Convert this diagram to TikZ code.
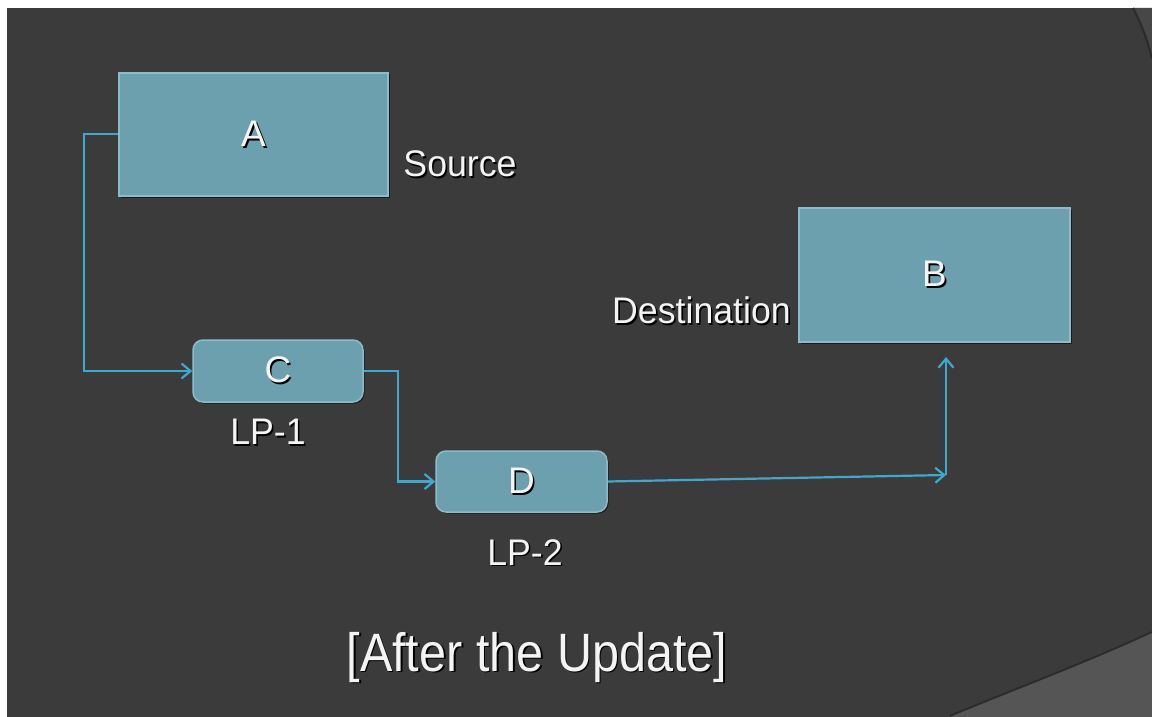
\documentclass[tikz,border=0pt]{standalone}
\usepackage{fontspec}
\setmainfont{Liberation Sans}
\usetikzlibrary{arrows.meta,shadows}
\definecolor{bgdark}{HTML}{3B3B3B}
\definecolor{bglight}{HTML}{555555}
\definecolor{bgedge}{HTML}{2B2B2B}
\definecolor{boxfill}{HTML}{6DA0AF}
\definecolor{boxline}{HTML}{8CBCC9}
\definecolor{conn}{HTML}{3FA8CE}
\definecolor{txtw}{HTML}{F4F4F4}
\newcommand\shtxt[1]{\makebox[0pt][l]{\raisebox{-1.6pt}{\hspace{1.6pt}\color{black}#1}}#1}
\newcommand\nar[1]{\scalebox{0.965}[1]{#1}}
\begin{document}
\begin{tikzpicture}[x=1pt,y=-1pt,
  boxbase/.style={draw=boxline, line width=1.5pt, fill=boxfill, inner sep=0pt,
    drop shadow={shadow xshift=1.5pt, shadow yshift=-1.5pt, fill=black, opacity=0.55},
    text=txtw, font=\fontsize{37}{40}\selectfont},
  bigbox/.style={boxbase, rectangle},
  lpbox/.style={boxbase, rectangle, rounded corners=10pt},
  lbl/.style={text=txtw, inner sep=0pt, font=\fontsize{37}{40}\selectfont},
  title/.style={text=txtw, inner sep=0pt, font=\fontsize{54}{60}\selectfont},
  conline/.style={draw=conn, line width=2.2pt},
  arr/.style={conline, -{Straight Barb[length=9pt,width=15pt,line width=2.2pt]}}
]
\useasboundingbox (0,0) rectangle (1152,717);
% background
\fill[white] (0,0) rectangle (1152,717);
\fill[bgdark] (7,8) rectangle (1152,717);
% top-right wedge
\fill[black!72] (1133,8) .. controls (1142,25) and (1148,42) .. (1152,59) -- (1152,8) -- cycle;
\draw[bgedge, line width=2pt] (1133,8) .. controls (1142,25) and (1148,42) .. (1152,59);
% bottom-right lighter region
\draw[bgedge, line width=4pt] (950,717) .. controls (1020,688) and (1090,662) .. (1152,633);
\fill[bglight] (950,717) .. controls (1020,688) and (1090,662) .. (1152,633) -- (1152,717) -- cycle;

% boxes
\node[bigbox, minimum width=269pt, minimum height=123pt] (A) at (253.5,134.5) {\shtxt{A}};
\node[bigbox, minimum width=271pt, minimum height=134pt] (B) at (934.5,275) {\shtxt{B}};
\node[lpbox, minimum width=170pt, minimum height=62pt] (C) at (278,371) {\shtxt{C}};
\node[lpbox, minimum width=171pt, minimum height=61pt] (D) at (521.5,481.5) {\shtxt{D}};

% labels
\node[lbl] (src) at (460,165) {\shtxt{\nar{Source}}};
\node[lbl] (dst) at (701.5,311) {\shtxt{\nar{Destination}}};
\node[lbl] (lp1) at (268,433) {\shtxt{\nar{LP-1}}};
\node[lbl] (lp2) at (525,553) {\shtxt{\nar{LP-2}}};
\node[title] (ttl) at (537,658) {\shtxt{\scalebox{0.9}[1]{[After the Update]}}};

% connectors
\coordinate (a1) at (84,134);
\coordinate (c1) at (398,371);
\coordinate (bend) at (946,475);
\coordinate (tipB) at (946,357);
\draw[arr] (A.west |- a1) -- (a1) |- (C.west);
\draw[arr] (C.east) -| (c1) |- (D.west);
\draw[arr] (D.east) -- (bend);
\draw[arr] (bend) -- (tipB);
\end{tikzpicture}
\end{document}
